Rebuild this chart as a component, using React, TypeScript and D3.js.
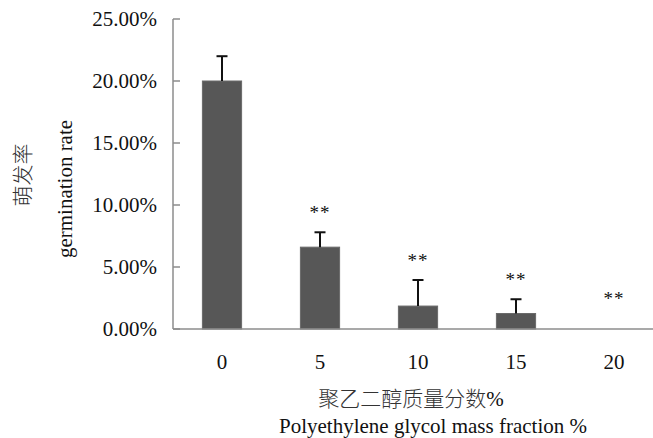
import React from "react";
import * as d3 from "d3";

const categories = ["0", "5", "10", "15", "20"];
const means = [20.0, 6.6, 1.85, 1.25, 0];
const errors = [2.0, 1.2, 2.1, 1.15, 0];
const significance = ["", "**", "**", "**", "**"];
const yTicks = [0, 5, 10, 15, 20, 25];

const W = 653;
const H = 438;
const left = 173;
const right = 663;
const top = 19;
const bottom = 329;

const serif = "'Liberation Serif', 'Times New Roman', serif";
const cjk = "'Noto Sans CJK SC', sans-serif";

export default function App() {
  const x = d3.scaleBand<string>().domain(categories).range([left, right]).paddingInner(0.6).paddingOuter(0.3);
  const y = d3.scaleLinear().domain([0, 25]).range([bottom, top]);
  const bw = x.bandwidth();
  const axisColor = "#8c8c8c";
  return (
    <svg width={W} height={H} style={{ position: "absolute", left: 0, top: 0, background: "#fff" }}>
      {/* bars */}
      {categories.map((c, i) => {
        const x0 = x(c)!;
        const yt = y(means[i]);
        return (
          <rect key={"b" + c} x={x0} y={yt} width={bw} height={Math.max(0, y(0) - yt)} fill="#575757" stroke="#6a6a6a" strokeWidth={1} />
        );
      })}
      {/* error bars */}
      {categories.map((c, i) => {
        if (errors[i] <= 0) return null;
        const cx = x(c)! + bw / 2;
        const y1 = y(means[i]);
        const y2 = y(means[i] + errors[i]);
        return (
          <g key={"e" + c} stroke="#111" strokeWidth={2}>
            <line x1={cx} x2={cx} y1={y1} y2={y2} />
            <line x1={cx - 5.5} x2={cx + 5.5} y1={y2} y2={y2} />
          </g>
        );
      })}
      {/* significance */}
      {categories.map((c, i) => {
        if (!significance[i]) return null;
        const cx = x(c)! + bw / 2;
        const yy = Math.min(y(means[i] + errors[i]) - 13, y(0) - 24);
        return (
          <text key={"s" + c} x={cx} y={yy} textAnchor="middle" fontFamily={serif} fontSize={19} fill="#111" letterSpacing={1}>
            {significance[i]}
          </text>
        );
      })}
      {/* axes */}
      <line x1={left} x2={left} y1={y(25)} y2={y(0)} stroke={axisColor} strokeWidth={1.5} />
      <line x1={left} x2={W} y1={y(0)} y2={y(0)} stroke={axisColor} strokeWidth={1.5} />
      {yTicks.map((t) => (
        <g key={"t" + t}>
          <line x1={left} x2={left + 7} y1={y(t)} y2={y(t)} stroke={axisColor} strokeWidth={1.5} />
          <text x={157} y={y(t) + 7} textAnchor="end" fontFamily={serif} fontSize={21} fill="#111">
            {t.toFixed(2) + "%"}
          </text>
        </g>
      ))}
      {categories.map((c) => (
        <text key={"x" + c} x={x(c)! + bw / 2} y={369} textAnchor="middle" fontFamily={serif} fontSize={21} fill="#111">
          {c}
        </text>
      ))}
      {/* axis titles */}
      <text x={411} y={406} textAnchor="middle" fontFamily={cjk} fontWeight={300} fontSize={21} fill="#333">
        聚乙二醇质量分数<tspan fontFamily={serif} fontWeight={400} fill="#111">%</tspan>
      </text>
      <text x={433} y={433} textAnchor="middle" fontFamily={serif} fontSize={21} fill="#111">
        Polyethylene glycol mass fraction %
      </text>
      <text transform="translate(30,175) rotate(-90)" textAnchor="middle" fontFamily={cjk} fontWeight={300} fontSize={21} fill="#333">
        萌发率
      </text>
      <text transform="translate(72,189) rotate(-90)" textAnchor="middle" fontFamily={serif} fontSize={21} fill="#111">
        germination rate
      </text>
    </svg>
  );
}
